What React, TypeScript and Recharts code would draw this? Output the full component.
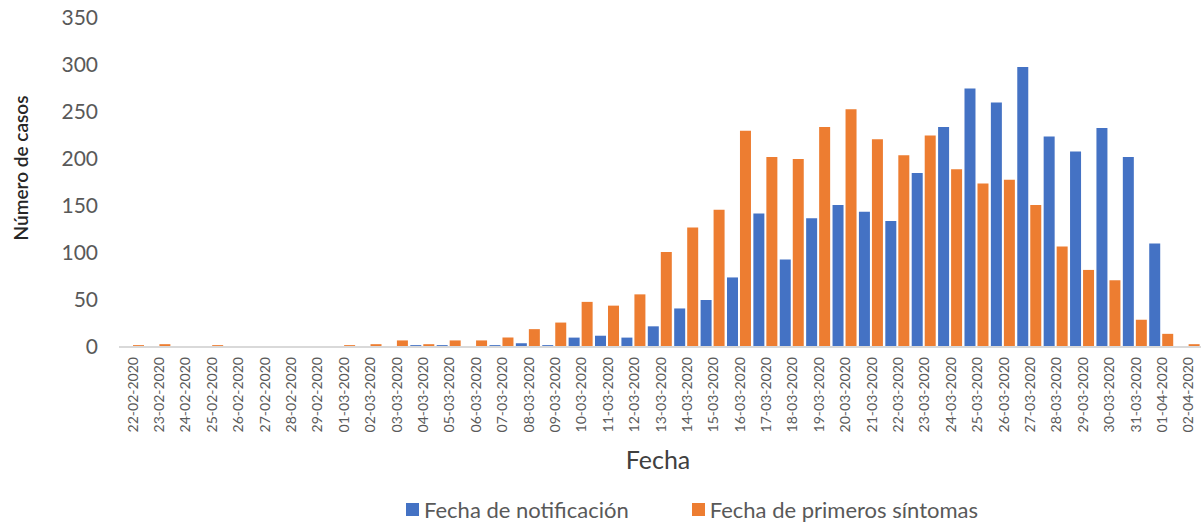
import React from 'react';
import { BarChart, Bar, XAxis, YAxis, Legend, Label } from 'recharts';

const fechas = [
  '22-02-2020', '23-02-2020', '24-02-2020', '25-02-2020', '26-02-2020', '27-02-2020', '28-02-2020', '29-02-2020',
  '01-03-2020', '02-03-2020', '03-03-2020', '04-03-2020', '05-03-2020', '06-03-2020', '07-03-2020', '08-03-2020',
  '09-03-2020', '10-03-2020', '11-03-2020', '12-03-2020', '13-03-2020', '14-03-2020', '15-03-2020', '16-03-2020',
  '17-03-2020', '18-03-2020', '19-03-2020', '20-03-2020', '21-03-2020', '22-03-2020', '23-03-2020', '24-03-2020',
  '25-03-2020', '26-03-2020', '27-03-2020', '28-03-2020', '29-03-2020', '30-03-2020', '31-03-2020', '01-04-2020',
  '02-04-2020',
];

const notificacion = [
  0, 0, 0, 0, 0, 0, 0, 0, 0, 0, 0, 2, 2, 0, 2, 4, 2, 10, 12, 10, 22, 41, 50, 74, 142, 93, 137, 151, 144, 134,
  185, 234, 275, 260, 298, 224, 208, 233, 202, 110, 0,
];

const sintomas = [
  2, 3, 0, 2, 0, 0, 0, 0, 2, 3, 7, 3, 7, 7, 10, 19, 26, 48, 44, 56, 101, 127, 146, 230, 202, 200, 234, 253, 221,
  204, 225, 189, 174, 178, 151, 107, 82, 71, 29, 14, 3,
];

const yTicks = [0, 50, 100, 150, 200, 250, 300, 350];

const seriesNames = ['Fecha de notificación', 'Fecha de primeros síntomas'];
const seriesColors = ['#4472C4', '#ED7D31'];

const data = fechas.map((f, i) => ({ fecha: f, notificacion: notificacion[i], sintomas: sintomas[i] }));

const FONT = 'Lato, "Open Sans", sans-serif';

const XTick = (props: any) => {
  const { x, y, payload } = props;
  return (
    <text
      x={x}
      y={y}
      transform={`rotate(-90, ${x}, ${y})`}
      textAnchor="end"
      dominantBaseline="central"
      fontSize={14}
      fontFamily={FONT}
      fill="#595959"
    >
      {payload.value}
    </text>
  );
};

const LegendContent = () => (
  <div
    style={{
      display: 'flex',
      alignItems: 'center',
      paddingLeft: 406,
      fontFamily: FONT,
      fontSize: 22,
      color: '#595959',
      whiteSpace: 'nowrap',
    }}
  >
    {seriesNames.map((n, i) => (
      <div key={n} style={{ display: 'flex', alignItems: 'center', marginRight: i === 0 ? 63 : 0 }}>
        <span style={{ display: 'inline-block', width: 13, height: 13, background: seriesColors[i], marginRight: 5 }} />
        <span>{n}</span>
      </div>
    ))}
  </div>
);

export default function App() {
  return (
    <div style={{ position: 'absolute', left: 0, top: 0, width: 1201, height: 525, background: '#fff' }}>
      <BarChart
        width={1201}
        height={525}
        data={data}
        margin={{ top: 18, right: 0, bottom: 53, left: 0 }}
        barCategoryGap={1}
        barGap={2}
      >
        <XAxis
          dataKey="fecha"
          interval={0}
          height={125}
          tick={<XTick />}
          tickLine={false}
          tickSize={0}
          tickMargin={10}
          axisLine={{ stroke: '#d9d9d9', strokeWidth: 2 }}
        >
          <Label
            content={() => (
              <text
                x={658}
                y={459}
                textAnchor="middle"
                dominantBaseline="central"
                fontSize={25}
                fontFamily={FONT}
                fill="#404040"
              >
                Fecha
              </text>
            )}
          />
        </XAxis>
        <YAxis
          width={119}
          domain={[0, 350]}
          ticks={yTicks}
          interval={0}
          axisLine={false}
          tickLine={false}
          tickSize={0}
          tickMargin={21}
          tick={{ fontSize: 21, fontFamily: FONT, fill: '#595959' }}
        >
          <Label
            content={() => (
              <text
                x={20}
                y={168}
                transform="rotate(-90, 20, 168)"
                textAnchor="middle"
                dominantBaseline="central"
                fontSize={19}
                fontWeight={600}
                fontFamily={FONT}
                fill="#262626"
              >
                Número de casos
              </text>
            )}
          />
        </YAxis>
        <Legend
          verticalAlign="middle"
          align="center"
          layout="horizontal"
          wrapperStyle={{ position: 'absolute', top: 496, left: 0, width: 1201, height: 28 }}
          content={<LegendContent />}
        />
        <Bar dataKey="notificacion" name={seriesNames[0]} fill={seriesColors[0]} isAnimationActive={false} />
        <Bar dataKey="sintomas" name={seriesNames[1]} fill={seriesColors[1]} isAnimationActive={false} />
      </BarChart>
    </div>
  );
}
